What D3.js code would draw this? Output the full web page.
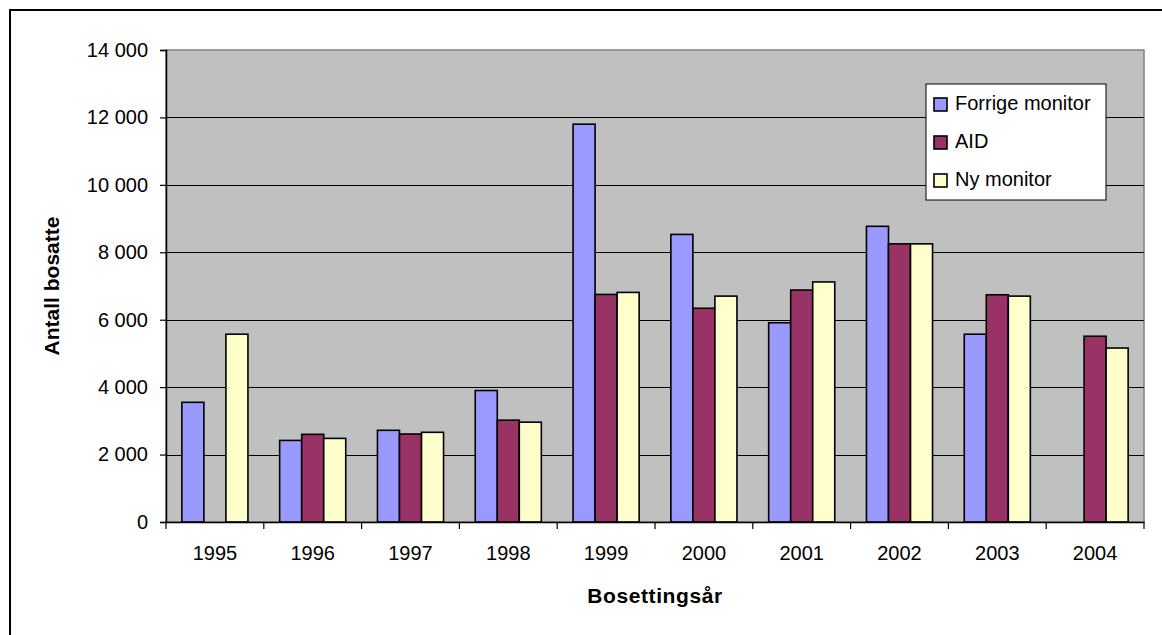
<!DOCTYPE html>
<html>
<head>
<meta charset="utf-8">
<script src="https://cdn.jsdelivr.net/npm/d3@7"></script>
<style>
  html, body { margin: 0; padding: 0; background: #fff; }
  svg { display: block; }
  text { font-family: "Liberation Sans", Arial, sans-serif; }
</style>
</head>
<body>
<svg id="chart" width="1162" height="635"></svg>
<script>
const years = ["1995","1996","1997","1998","1999","2000","2001","2002","2003","2004"];
const seriesNames = ["Forrige monitor","AID","Ny monitor"];
const forrigeMonitor = [3550, 2420, 2720, 3900, 11800, 8530, 5910, 8770, 5570, null];
const aid            = [null, 2600, 2610, 3020, 6750, 6340, 6880, 8250, 6740, 5510];
const nyMonitor      = [5570, 2480, 2660, 2960, 6810, 6700, 7120, 8250, 6700, 5160];
const yTicks = [0, 2000, 4000, 6000, 8000, 10000, 12000, 14000];
const colors = ["#9999FF", "#993366", "#FFFFCC"];

const seriesValues = [forrigeMonitor, aid, nyMonitor];

const svg = d3.select("#chart");
const L = 166, R = 1144, T = 50, B = 522;

// outer chart border
svg.append("rect").attr("x", 10).attr("y", 10).attr("width", 1170).attr("height", 640)
  .attr("fill", "#fff").attr("stroke", "#000").attr("stroke-width", 2);

const x0 = d3.scaleBand().domain(years).range([L, R]).padding(0);
const x1 = d3.scaleBand().domain(seriesNames).range([0, x0.bandwidth()])
  .paddingInner(0).paddingOuter(0.72);
const y = d3.scaleLinear().domain([0, 14000]).range([B, T]);

// plot area
svg.append("rect").attr("x", L).attr("y", T).attr("width", R - L).attr("height", B - T)
  .attr("fill", "#C0C0C0").attr("stroke", "#808080").attr("stroke-width", 1.5);

// gridlines
svg.append("g").selectAll("line").data(yTicks.filter(d => d > 0 && d < 14000)).join("line")
  .attr("x1", L).attr("x2", R).attr("y1", d => Math.round(y(d)) + 0.5).attr("y2", d => Math.round(y(d)) + 0.5)
  .attr("stroke", "#000").attr("stroke-width", 1);

// bars
const data = [];
years.forEach((yr, i) => {
  seriesNames.forEach((s, j) => {
    const v = seriesValues[j][i];
    if (v != null) data.push({ yr, s, v, j });
  });
});
svg.append("g").selectAll("rect").data(data).join("rect")
  .attr("x", d => x0(d.yr) + x1(d.s))
  .attr("y", d => y(d.v))
  .attr("width", x1.bandwidth())
  .attr("height", d => y(0) - y(d.v))
  .attr("fill", d => colors[d.j])
  .attr("stroke", "#000").attr("stroke-width", 1.6);

// y axis
const yAxis = d3.axisLeft(y).tickValues(yTicks).tickSize(6).tickPadding(12)
  .tickFormat(d => d3.format(",")(d).replace(/,/g, " "));
const gy = svg.append("g").attr("transform", `translate(${L},0)`).call(yAxis);
gy.select(".domain").attr("stroke", "#000").attr("stroke-width", 1.5);
gy.selectAll(".tick line").attr("stroke", "#000").attr("stroke-width", 1.2);
gy.selectAll("text").attr("font-size", 20).attr("fill", "#000")
  .attr("font-family", "'Liberation Sans', Arial, sans-serif");

// x axis
const xAxis = d3.axisBottom(x0).tickSize(0).tickPadding(24);
const gx = svg.append("g").attr("transform", `translate(0,${B})`).call(xAxis);
gx.select(".domain").attr("stroke", "#000").attr("stroke-width", 1.5);
gx.selectAll("text").attr("font-size", 20).attr("fill", "#000")
  .attr("font-family", "'Liberation Sans', Arial, sans-serif");
// category boundary ticks
const bounds = years.map(d => x0(d)).concat([R]);
svg.append("g").selectAll("line").data(bounds).join("line")
  .attr("x1", d => d).attr("x2", d => d).attr("y1", B).attr("y2", B + 7)
  .attr("stroke", "#000").attr("stroke-width", 1.2);

// axis titles
svg.append("text").attr("x", (L + R) / 2).attr("y", 603).attr("text-anchor", "middle")
  .attr("font-size", 21).attr("font-weight", "bold").attr("letter-spacing", 0.6)
  .text("Bosettingsår");
svg.append("text").attr("transform", `translate(59,${(T + B) / 2}) rotate(-90)`)
  .attr("text-anchor", "middle").attr("font-size", 21).attr("font-weight", "bold")
  .text("Antall bosatte");

// legend
const lg = svg.append("g");
lg.append("rect").attr("x", 926).attr("y", 84).attr("width", 180).attr("height", 116)
  .attr("fill", "#fff").attr("stroke", "#000").attr("stroke-width", 1);
seriesNames.forEach((s, j) => {
  const by = 110 + j * 38;
  lg.append("rect").attr("x", 934).attr("y", by - 12).attr("width", 13).attr("height", 13)
    .attr("fill", colors[j]).attr("stroke", "#000").attr("stroke-width", 1.6);
  lg.append("text").attr("x", 955).attr("y", by).attr("font-size", 20).text(s);
});
</script>
</body>
</html>
